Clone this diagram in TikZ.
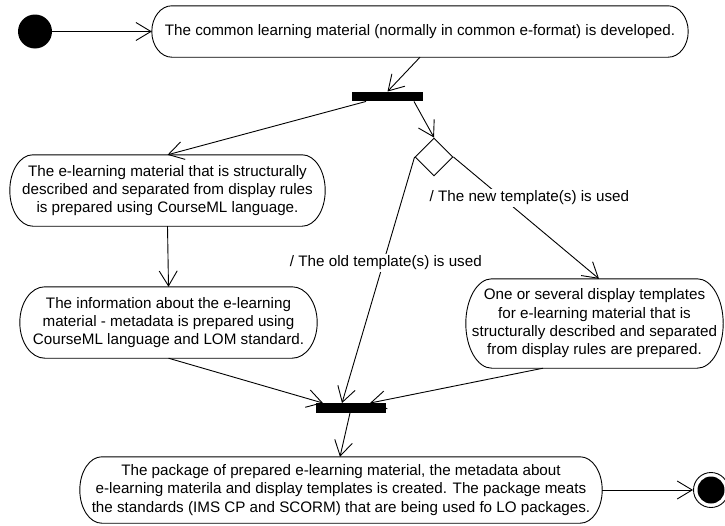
\documentclass[tikz,border=0pt]{standalone}
\usepackage{fontspec}
\setmainfont{Liberation Sans}
\usetikzlibrary{arrows.meta,shapes.geometric,calc}

% Capsule outline around an (invisible) activity node:
% #1 = node name, #2 = depth of the curved ends in pt
\newcommand\capsule[2]{%
  \draw[boxline] let \p1=(#1.north west), \p2=(#1.south east), \n1={(\y1-\y2)/2} in
    (\x1+#2pt,\y1) -- (\x2-#2pt,\y1)
    arc[start angle=90, end angle=-90, x radius=#2pt, y radius=\n1]
    -- (\x1+#2pt,\y2)
    arc[start angle=270, end angle=90, x radius=#2pt, y radius=\n1] -- cycle;}

\begin{document}
\begin{tikzpicture}[x=1pt,y=-1pt,
  every node/.style={font=\fontsize{15.2}{18.3}\selectfont},
  actbox/.style={draw=none, inner sep=0pt, align=center},
  bar/.style={fill=black, draw=none, inner sep=0pt, minimum width=71pt, minimum height=9.5pt},
  conn/.style={line width=0.9pt, -{Straight Barb[length=15pt,width=18pt]}},
  lab/.style={fill=white, inner sep=2pt},
  boxline/.style={line width=0.9pt},
  startdot/.style={circle, fill=black, draw=none, minimum size=34pt, inner sep=0pt},
  endring/.style={circle, draw=black, line width=0.9pt, minimum size=35pt, inner sep=0pt},
  choice/.style={diamond, draw=black, line width=0.9pt, minimum width=38pt, minimum height=38pt, inner sep=0pt}]

\fill[white] (0,0) rectangle (725,525);
\useasboundingbox (0,0) rectangle (725,525);

% initial and final states
\node[startdot] (start) at (35,31.5) {};
\node[endring] (end) at (711,490) {};
\fill (end.center) circle[radius=13.5pt];

% activities
\node[actbox, minimum width=536pt, minimum height=51pt] (top) at (420,31.5)
  {The common learning material (normally in common e-format) is developed.};
\node[actbox, minimum width=315pt, minimum height=71pt] (lb1) at (167.5,190.5)
  {The e-learning material that is structurally\\described and separated from display rules\\is prepared using CourseML language.};
\node[actbox, minimum width=297pt, minimum height=71pt] (lb2) at (168.5,322.5)
  {The information about the e-learning\\material - metadata is prepared using\\CourseML language and LOM standard.};
\node[actbox, minimum width=257pt, minimum height=89pt] (rb) at (594.5,323.5)
  {One or several display templates\\for e-learning material that is\\structurally described and separated\\from display rules are prepared.};
\node[actbox, minimum width=522pt, minimum height=66pt] (bot) at (341,490)
  {The package of prepared e-learning material, the metadata about\\e-learning materila and display templates is created. The package meats\\the standards (IMS CP and SCORM) that are being used fo LO packages.};

\capsule{top}{20}
\capsule{lb1}{23}
\capsule{lb2}{25}
\capsule{rb}{26}
\capsule{bot}{22}

% fork, join and decision
\node[bar] (fork) at (387.5,96.5) {};
\node[bar, minimum width=70pt] (join) at (351,408) {};
\node[choice] (dia) at (434,157) {};

% transitions
\draw[conn] (start.east) -- (top.west);
\draw[conn] (top.south) -- (fork.north);
\draw[conn] ([xshift=-21.5pt]fork.south) -- (lb1.north);
\draw[conn] ([xshift=26.5pt]fork.south) -- (dia.north);
\draw[conn] (lb1.south) -- (lb2.north);
\draw[conn] (lb2.south) -- ([xshift=-28pt]join.north);
\draw[conn] (dia.west) -- node[lab, pos=0.43, xshift=2.5pt] {/ The old template(s) is used} ([xshift=-9pt]join.north);
\draw[conn] (dia.east) -- node[lab, pos=0.336, xshift=27pt] {/ The new template(s) is used} ([xshift=4.5pt]rb.north);
\draw[conn] ([xshift=-51.5pt]rb.south) -- ([xshift=19pt]join.north);
\draw[conn] ([xshift=-1pt]join.south) -- ([xshift=-1pt]bot.north);
\draw[conn] (bot.east) -- (end.west);
\end{tikzpicture}
\end{document}
